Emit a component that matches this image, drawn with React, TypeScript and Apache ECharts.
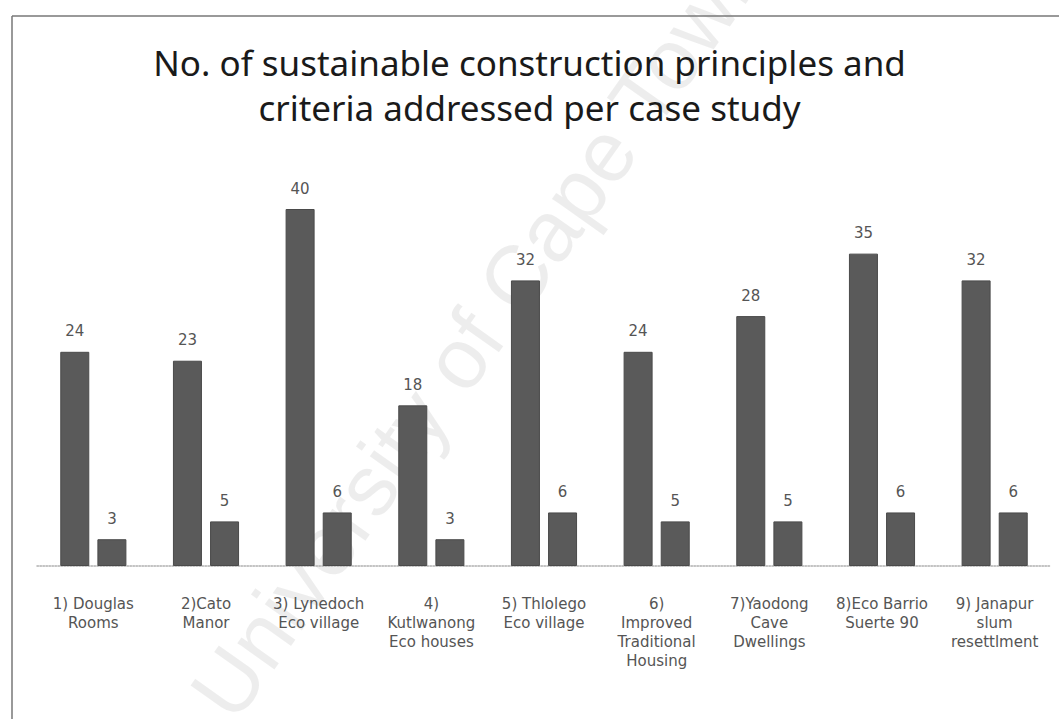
import React, { useEffect, useRef } from "react";
import * as echarts from "echarts";

const categories = [
  "1) Douglas\nRooms",
  "2)Cato\nManor",
  "3) Lynedoch\nEco village",
  "4)\nKutlwanong\nEco houses",
  "5) Thlolego\nEco village",
  "6)\nImproved\nTraditional\nHousing",
  "7)Yaodong\nCave\nDwellings",
  "8)Eco Barrio\nSuerte 90",
  "9) Janapur\nslum\nresettlment",
];
const principles = [24, 23, 40, 18, 32, 24, 28, 35, 32];
const criteria = [3, 5, 6, 3, 6, 5, 5, 6, 6];
const titleText = "No. of sustainable construction principles and\ncriteria addressed per case study";
const watermark = "University of Cape Town";

export default function App() {
  const ref = useRef<HTMLDivElement>(null);
  useEffect(() => {
    if (!ref.current) return;
    const chart = echarts.init(ref.current, undefined, { renderer: "svg" });
    const labelStyle = {
      show: true,
      position: "top" as const,
      distance: 13,
      color: "#555",
      fontSize: 15,
      fontFamily: "DejaVu Sans",
    };
    chart.setOption({
      animation: false,
      backgroundColor: "#fff",
      title: {
        text: titleText,
        left: "center",
        top: 35,
        textStyle: {
          fontFamily: "Noto Sans",
          fontSize: 35,
          fontWeight: "normal",
          color: "#1a1a1a",
          lineHeight: 45,
        },
      },
      graphic: [
        {
          type: "text",
          x: 478,
          y: 330,
          rotation: 0.955,
          z: -10,
          style: {
            text: watermark,
            fontSize: 86,
            fontFamily: "Liberation Sans",
            fill: "rgba(0,0,0,0.07)",
            align: "center",
            verticalAlign: "middle",
          },
        },
        {
          type: "line",
          shape: { x1: 12, y1: 16, x2: 1059, y2: 16 },
          style: { stroke: "#777", lineWidth: 1.5 },
        },
        {
          type: "line",
          shape: { x1: 12, y1: 16, x2: 12, y2: 719 },
          style: { stroke: "#777", lineWidth: 1.5 },
        },
      ],
      grid: { left: 37, right: 8, top: 209, bottom: 153, containLabel: false },
      xAxis: {
        type: "category",
        data: categories,
        axisLine: { lineStyle: { color: "#b0b0b0", width: 1.5, type: "dotted" } },
        axisTick: { show: false },
        axisLabel: {
          interval: 0,
          margin: 28,
          color: "#555",
          fontSize: 15,
          lineHeight: 19,
          fontFamily: "DejaVu Sans",
        },
      },
      yAxis: {
        type: "value",
        min: 0,
        max: 40,
        show: false,
        splitLine: { show: false },
      },
      series: [
        {
          type: "bar",
          data: principles,
          barWidth: 29,
          barGap: "28%",
          itemStyle: { color: "#5a5a5a", borderColor: "#4a4a4a", borderWidth: 1 },
          label: labelStyle,
        },
        {
          type: "bar",
          data: criteria,
          barWidth: 29,
          itemStyle: { color: "#5a5a5a", borderColor: "#4a4a4a", borderWidth: 1 },
          label: labelStyle,
        },
      ],
    });
    return () => chart.dispose();
  }, []);
  return (
    <div
      ref={ref}
      style={{ position: "fixed", left: 0, top: 0, width: 1059, height: 719 }}
    />
  );
}
